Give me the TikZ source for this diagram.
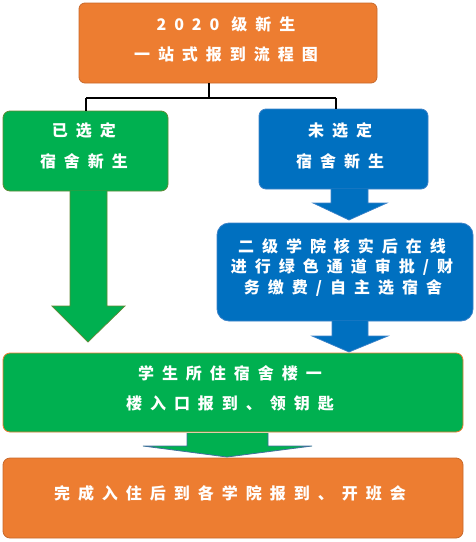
\documentclass[tikz,border=0pt]{standalone}
\usepackage{fontspec}
\newfontfamily\cjk{Noto Sans CJK SC}
\makeatletter
\newlength\chgap \setlength\chgap{8pt}
\newcommand\spc[1]{\@tfor\ch@r:=#1\do{\ch@r\kern\chgap}\kern-\chgap}
\makeatother
\definecolor{cOrange}{HTML}{ED7D31}
\definecolor{cOrangeD}{HTML}{C8692B}
\definecolor{cGreen}{HTML}{00B050}
\definecolor{cGreenD}{HTML}{5F8A35}
\definecolor{cBlue}{HTML}{0070C0}
\definecolor{cBlueL}{HTML}{3C82C8}
\definecolor{cSteel}{HTML}{41719C}
\tikzset{
  box/.style={rounded corners=#1, minimum width=1pt, inner sep=0pt, line width=0.8pt},
  txt/.style={text=white, inner sep=0pt, font=\fontsize{16}{19}\cjk\bfseries},
  tree/.style={line width=1.8pt, black},
}
\begin{document}
\begin{tikzpicture}[x=1pt,y=-1pt]
\useasboundingbox (0,0) rectangle (476,542);
% boxes
\node[box=6pt, fill=cOrange, draw=cOrangeD, minimum width=298pt, minimum height=80pt] (top) at (228,43) {};
\node[box=7pt, fill=cGreen, draw=cGreenD, minimum width=165pt, minimum height=80pt] (sel) at (85.5,151) {};
\node[box=7pt, fill=cBlue, draw=cBlueL, minimum width=169pt, minimum height=80pt] (unsel) at (343.5,149) {};
\node[box=12pt, fill=cBlue, draw=cBlueL, minimum width=256pt, minimum height=98pt] (check) at (345,272) {};
\node[box=7pt, fill=cGreen, draw=cOrange, minimum width=460pt, minimum height=79pt] (dorm) at (233,392.5) {};
\node[box=7pt, fill=cOrange, draw=cOrangeD, minimum width=460pt, minimum height=80pt] (done) at (233,498) {};
% tree connector
\coordinate (jt) at (209,98);
\coordinate (jl) at (86,98);
\coordinate (jr) at (336,98);
\draw[tree] (top.south -| jt) -- (jt);
\draw[tree] (jl) -- (jr);
\draw[tree] (jl) -- (jl |- sel.north);
\draw[tree] (jr) -- (jr |- unsel.north);
% block arrows
\draw[fill=cGreen, draw=cGreenD, line width=0.7pt]
  (70,191) -- (70,306) -- (52,306) -- (88,342) -- (125,306) -- (107,306) -- (107,191);
\draw[fill=cBlue, draw=cBlueL, line width=0.7pt]
  (331,189) -- (331,203) -- (313,203) -- (349,220) -- (387,203) -- (368,203) -- (368,189);
\draw[fill=cBlue, draw=cBlueL, line width=0.7pt]
  (332,321) -- (332,336) -- (312,336) -- (349,352) -- (388,336) -- (368,336) -- (368,321);
\draw[fill=cGreen, draw=cSteel, line width=0.8pt]
  (187,433) -- (187,446) -- (143,446) -- (227,457) -- (312,446) -- (268,446) -- (268,433);
% texts
\node[txt] (t1) at (226,24) {\spc{2020}\hspace{12pt}\spc{级新生}};
\node[txt] (t2) at (226,54) {\spc{一站式报到流程图}};
\node[txt] (t3) at (84,130) {\spc{已选定}};
\node[txt] (t4) at (84,161) {\spc{宿舍新生}};
\node[txt] (t5) at (340,130) {\spc{未选定}};
\node[txt] (t6) at (340,161) {\spc{宿舍新生}};
\node[txt] (t7) at (342,246) {\spc{二级学院核实后在线}};
\node[txt] (t8) at (342,267) {\spc{进行绿色通道审批/财}};
\node[txt] (t9) at (343,287.5) {\spc{务缴费/自主选宿舍}};
\node[txt] (t10) at (230,373) {\spc{学生所住宿舍楼一}};
\node[txt] (t11) at (230,403) {\spc{楼入口报到、领钥匙}};
\node[txt] (t12) at (230,493) {\spc{完成入住后到各学院报到、开班会}};
\end{tikzpicture}
\end{document}
